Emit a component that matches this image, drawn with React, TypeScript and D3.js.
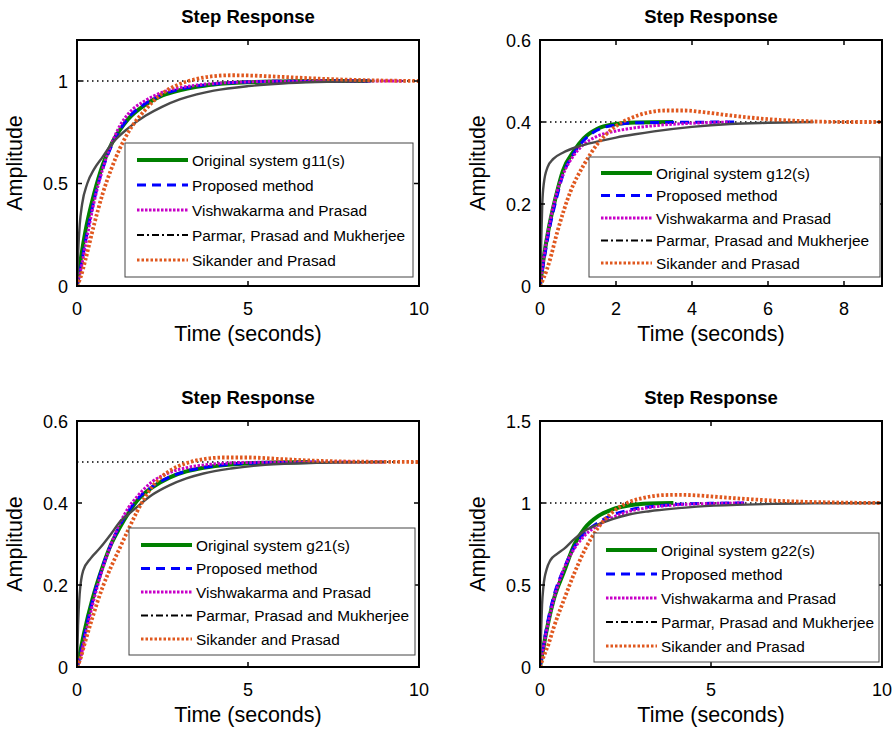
import React from "react";
import * as d3 from "d3";

type Pt = [number, number];

// ---- panel g11 ----
const g11Original: Pt[] = [[0,0],[0.1,0.12],[0.25,0.27],[0.5,0.45],[0.75,0.59],[1,0.69],[1.25,0.76],[1.5,0.815],[2,0.885],[2.5,0.93],[3,0.955],[3.5,0.972],[4,0.983],[5,0.994],[6,0.998],[7,1],[8.5,1]];
const g11Proposed: Pt[] = [[0,0],[0.1,0.08],[0.25,0.22],[0.5,0.42],[0.75,0.57],[1,0.68],[1.25,0.76],[1.5,0.82],[2,0.89],[2.5,0.935],[3,0.96],[3.5,0.975],[4,0.985],[5,0.995],[6,0.999],[8.7,1]];
const g11Vishwakarma: Pt[] = [[0,0],[0.1,0.07],[0.25,0.2],[0.5,0.41],[0.75,0.57],[1,0.69],[1.25,0.78],[1.5,0.84],[2,0.905],[2.5,0.945],[3,0.967],[3.5,0.98],[4,0.988],[5,0.996],[6,0.999],[9.6,1]];
const g11Parmar: Pt[] = [[0,0],[0.03,0.15],[0.08,0.3],[0.15,0.4],[0.3,0.5],[0.5,0.57],[0.75,0.63],[1,0.69],[1.5,0.77],[2,0.83],[2.5,0.875],[3,0.91],[3.5,0.935],[4,0.953],[5,0.975],[6,0.988],[7,0.995],[8.7,1]];
const g11Sikander: Pt[] = [[0,0],[0.1,0.04],[0.25,0.13],[0.5,0.3],[0.75,0.45],[1,0.57],[1.25,0.67],[1.5,0.75],[2,0.86],[2.5,0.94],[3,0.985],[3.5,1.01],[4,1.024],[4.5,1.028],[5,1.027],[6,1.02],[7,1.012],[8,1.006],[9,1.002],[10,1]];

// ---- panel g12 ----
const g12Original: Pt[] = [[0,0],[0.1,0.07],[0.25,0.15],[0.45,0.23],[0.6,0.28],[0.9,0.33],[1.15,0.36],[1.5,0.383],[2,0.395],[2.5,0.399],[3.5,0.4]];
const g12Proposed: Pt[] = [[0,0],[0.1,0.06],[0.25,0.14],[0.45,0.22],[0.6,0.27],[0.9,0.325],[1.15,0.355],[1.5,0.38],[2,0.393],[2.5,0.398],[5.2,0.4]];
const g12Vishwakarma: Pt[] = [[0,0],[0.1,0.07],[0.25,0.15],[0.45,0.23],[0.6,0.27],[0.9,0.32],[1.15,0.345],[1.5,0.365],[2,0.378],[2.5,0.386],[3,0.391],[4,0.397],[5,0.4]];
const g12Parmar: Pt[] = [[0,0],[0.03,0.1],[0.06,0.2],[0.1,0.25],[0.2,0.29],[0.35,0.31],[0.6,0.325],[1,0.34],[1.5,0.352],[2,0.362],[2.5,0.37],[3,0.377],[4,0.388],[5,0.395],[6,0.398],[7.2,0.4]];
const g12Sikander: Pt[] = [[0,0],[0.1,0.02],[0.25,0.06],[0.45,0.13],[0.8,0.23],[1.15,0.295],[1.5,0.345],[2,0.39],[2.4,0.41],[2.8,0.422],[3.3,0.428],[3.8,0.428],[4.3,0.424],[5,0.416],[6,0.407],[7,0.402],[8,0.4],[9,0.4]];

// ---- panel g21 ----
const g21Original: Pt[] = [[0,0],[0.1,0.04],[0.2,0.08],[0.45,0.165],[0.75,0.245],[1,0.3],[1.25,0.34],[1.5,0.375],[1.75,0.405],[2.2,0.438],[2.7,0.462],[3.2,0.477],[3.7,0.486],[4.5,0.494],[5.5,0.498],[6.8,0.5]];
const g21Proposed: Pt[] = [[0,0],[0.1,0.03],[0.2,0.07],[0.45,0.16],[0.75,0.245],[1,0.3],[1.25,0.345],[1.5,0.38],[1.75,0.408],[2.2,0.44],[2.7,0.463],[3.2,0.478],[4,0.49],[5,0.497],[7,0.5]];
const g21Vishwakarma: Pt[] = [[0,0],[0.1,0.02],[0.2,0.06],[0.45,0.15],[0.75,0.24],[1,0.3],[1.25,0.35],[1.5,0.388],[1.75,0.415],[2.2,0.452],[2.7,0.474],[3.2,0.486],[4,0.495],[5,0.499],[9,0.5]];
const g21Parmar: Pt[] = [[0,0],[0.03,0.1],[0.08,0.18],[0.18,0.235],[0.4,0.265],[0.67,0.29],[1,0.325],[1.26,0.355],[1.5,0.372],[1.75,0.39],[2.2,0.42],[2.7,0.443],[3.2,0.46],[3.7,0.472],[4.5,0.484],[5.5,0.493],[7,0.498],[9,0.5]];
const g21Sikander: Pt[] = [[0,0],[0.1,0.02],[0.2,0.05],[0.45,0.12],[0.75,0.195],[1,0.245],[1.25,0.29],[1.5,0.335],[1.75,0.378],[2.2,0.44],[2.7,0.478],[3.2,0.497],[3.7,0.507],[4.3,0.511],[5,0.511],[6,0.507],[7,0.503],[8,0.501],[10,0.5]];

// ---- panel g22 ----
const g22Original: Pt[] = [[0,0],[0.1,0.12],[0.25,0.28],[0.4,0.41],[0.7,0.58],[1,0.745],[1.3,0.845],[1.7,0.92],[2.1,0.96],[2.6,0.985],[3.2,0.997],[3.9,1]];
const g22Proposed: Pt[] = [[0,0],[0.1,0.13],[0.25,0.3],[0.4,0.43],[0.7,0.6],[1,0.73],[1.3,0.815],[1.7,0.88],[2.1,0.925],[2.6,0.957],[3.2,0.977],[3.9,0.99],[5,0.998],[6,1]];
const g22Vishwakarma: Pt[] = [[0,0],[0.1,0.12],[0.25,0.28],[0.4,0.41],[0.7,0.6],[1,0.72],[1.3,0.8],[1.7,0.865],[2.1,0.91],[2.6,0.948],[3.2,0.972],[3.9,0.987],[5,0.997],[6,1]];
const g22Parmar: Pt[] = [[0,0],[0.03,0.2],[0.06,0.38],[0.1,0.49],[0.2,0.6],[0.3,0.65],[0.5,0.69],[0.7,0.72],[1,0.78],[1.3,0.83],[1.7,0.87],[2.1,0.9],[2.6,0.93],[3.2,0.95],[3.9,0.966],[4.6,0.978],[6,0.99],[8,0.998],[10,1]];
const g22Sikander: Pt[] = [[0,0],[0.1,0.06],[0.25,0.14],[0.4,0.24],[0.7,0.41],[1,0.57],[1.3,0.71],[1.7,0.85],[2.1,0.94],[2.6,1.005],[3,1.03],[3.6,1.048],[4.1,1.05],[4.6,1.046],[5.2,1.037],[6,1.025],[7,1.013],[8,1.006],[9,1.002],[10,1]];

const legendNames = ["Original system", "Proposed method", "Vishwakarma and Prasad", "Parmar, Prasad and Mukherjee", "Sikander and Prasad"];
const systemNames = ["g11(s)", "g12(s)", "g21(s)", "g22(s)"];
const finalValues = [1, 0.4, 0.5, 1];
const xTicks = [[0, 5, 10], [0, 2, 4, 6, 8], [0, 5, 10], [0, 5, 10]];
const yTicks = [[0, 0.5, 1], [0, 0.2, 0.4, 0.6], [0, 0.2, 0.4, 0.6], [0, 0.5, 1, 1.5]];
const xMax = [10, 9, 10, 10];
const yMax = [1.2, 0.6, 0.6, 1.5];

const panelData = [
  [g11Original, g11Proposed, g11Vishwakarma, g11Parmar, g11Sikander],
  [g12Original, g12Proposed, g12Vishwakarma, g12Parmar, g12Sikander],
  [g21Original, g21Proposed, g21Vishwakarma, g21Parmar, g21Sikander],
  [g22Original, g22Proposed, g22Vishwakarma, g22Parmar, g22Sikander],
];

// line styles: curve style, legend sample style
const styles = [
  { stroke: "#008000", width: 4, dash: "none", legendStroke: "#008000", legendDash: "none" },
  { stroke: "#0000ff", width: 3, dash: "9,6", legendStroke: "#0000ff", legendDash: "9,6" },
  { stroke: "#c800c8", width: 3, dash: "2.5,1.5", legendStroke: "#c800c8", legendDash: "2.5,1.5" },
  { stroke: "#4a4a4a", width: 2.4, dash: "none", legendStroke: "#000", legendDash: "7,3,2,3" },
  { stroke: "#e0581f", width: 3.8, dash: "2.5,2", legendStroke: "#e0581f", legendDash: "2.5,2" },
];

const panels = [
  { left: 77, top: 40, legend: { x: 125, y: 143, w: 288, h: 134, first: 17, step: 25, line: 12 } },
  { left: 540, top: 40, legend: { x: 589, y: 157, w: 291, h: 120, first: 16, step: 22.5, line: 12 } },
  { left: 77, top: 421, legend: { x: 129, y: 528, w: 286, h: 127, first: 17, step: 23.5, line: 12 } },
  { left: 540, top: 421, legend: { x: 594, y: 533, w: 285, h: 129, first: 17, step: 24, line: 12 } },
];
const W = 342;
const H = 246;
const FONT = "Liberation Sans, Arial, Helvetica, sans-serif";

function Panel({ idx }: { idx: number }) {
  const p = panels[idx];
  const x = d3.scaleLinear().domain([0, xMax[idx]]).range([0, W]);
  const y = d3.scaleLinear().domain([0, yMax[idx]]).range([H, 0]);
  const line = d3.line<Pt>().x(d => x(d[0])).y(d => y(d[1])).curve(d3.curveMonotoneX);
  const lg = p.legend;
  const clipId = `clip${idx}`;
  return (
    <g transform={`translate(${p.left},${p.top})`}>
      <defs>
        <clipPath id={clipId}><rect x={0} y={0} width={W} height={H} /></clipPath>
      </defs>
      <text x={W / 2} y={-17} textAnchor="middle" fontWeight="bold" fontSize={18.5} fontFamily={FONT}>Step Response</text>
      <line x1={0} x2={W} y1={y(finalValues[idx])} y2={y(finalValues[idx])} stroke="#000" strokeWidth={1.4} strokeDasharray="1.5,3.5" />
      <g clipPath={`url(#${clipId})`}>
        {panelData[idx].map((d, i) => (
          <path key={i} d={line(d) || ""} fill="none" stroke={styles[i].stroke} strokeWidth={styles[i].width}
            strokeDasharray={styles[i].dash} strokeLinejoin="round" />
        ))}
      </g>
      {/* frame */}
      <rect x={0} y={0} width={W} height={H} fill="none" stroke="#000" strokeWidth={2} />
      {xTicks[idx].map(t => (
        <g key={"x" + t}>
          <line x1={x(t)} x2={x(t)} y1={H} y2={H - 5} stroke="#000" strokeWidth={1.5} />
          <line x1={x(t)} x2={x(t)} y1={0} y2={5} stroke="#000" strokeWidth={1.5} />
          <text x={x(t)} y={H + 29} textAnchor="middle" fontSize={18} fontFamily={FONT}>{t}</text>
        </g>
      ))}
      {yTicks[idx].map(t => (
        <g key={"y" + t}>
          <line x1={0} x2={5} y1={y(t)} y2={y(t)} stroke="#000" strokeWidth={1.5} />
          <line x1={W} x2={W - 5} y1={y(t)} y2={y(t)} stroke="#000" strokeWidth={1.5} />
          <text x={-9} y={y(t) + 6.5} textAnchor="end" fontSize={18} fontFamily={FONT}>{t}</text>
        </g>
      ))}
      <text x={W / 2} y={H + 55} textAnchor="middle" fontSize={21.5} fontFamily={FONT}>Time (seconds)</text>
      <text transform={`translate(-55,${H / 2}) rotate(-90)`} textAnchor="middle" fontSize={21.5} fontFamily={FONT}>Amplitude</text>
      {/* legend */}
      <g transform={`translate(${lg.x - p.left},${lg.y - p.top})`}>
        <rect x={0} y={0} width={lg.w} height={lg.h} fill="#fff" stroke="#444" strokeWidth={1} />
        {legendNames.map((name, i) => {
          const cy = lg.first + i * lg.step;
          return (
            <g key={name}>
              <line x1={lg.line} x2={lg.line + 51} y1={cy} y2={cy} stroke={styles[i].legendStroke}
                strokeWidth={i === 0 ? 4 : i === 3 ? 2.2 : 3.2} strokeDasharray={styles[i].legendDash} />
              <text x={lg.line + 55} y={cy + 5.5} fontSize={15.4} fontFamily={FONT}>
                {i === 0 ? `${name} ${systemNames[idx]}` : name}
              </text>
            </g>
          );
        })}
      </g>
    </g>
  );
}

export default function App() {
  return (
    <svg width={896} height={731} style={{ position: "absolute", left: 0, top: 0, background: "#fff" }}>
      <rect width={896} height={731} fill="#fff" />
      {panels.map((_, i) => <Panel key={i} idx={i} />)}
    </svg>
  );
}
